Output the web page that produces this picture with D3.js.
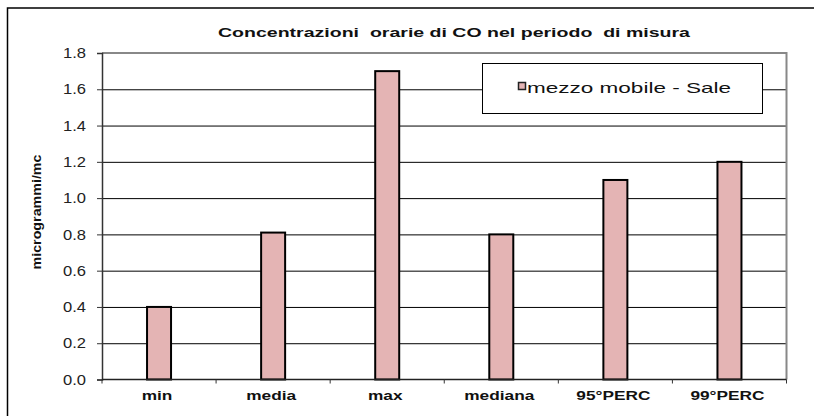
<!DOCTYPE html>
<html>
<head>
<meta charset="utf-8">
<script src="https://cdn.jsdelivr.net/npm/d3@7"></script>
<style>
  body { margin: 0; background: #fff; }
  svg { display: block; font-family: "Liberation Sans", Arial, sans-serif; }
</style>
</head>
<body>
<div id="chart"></div>
<script>
// chart data
const categories = ['min', 'media', 'max', 'mediana', '95°PERC', '99°PERC'];
const values = [0.4, 0.81, 1.7, 0.8, 1.1, 1.2];
const yTicks = [0, 0.2, 0.4, 0.6, 0.8, 1.0, 1.2, 1.4, 1.6, 1.8];
const seriesName = 'mezzo mobile - Sale';
const titleText = 'Concentrazioni  orarie di CO nel periodo  di misura';
const yLabel = 'microgrammi/mc';

const totalWidth = 814
const totalHeight = 416

const plotLeft = 102
const plotRight = 786.5
const plotTop = 53
const plotBottom = 379.5

const svg = d3.select('#chart')
    .append('svg')
    .attr('width', totalWidth)
    .attr('height', totalHeight);

// outer frame (right and bottom edges fall outside the picture)
svg.append('rect')
    .attr('x', 7.5)
    .attr('y', 8)
    .attr('width', 900)
    .attr('height', 600)
    .attr('fill', 'none')
    .attr('stroke', '#000')
    .attr('stroke-width', 1.5);

const xScale = d3.scaleBand()
    .domain(categories)
    .range([plotLeft, plotRight]);

const yScale = d3.scaleLinear()
    .domain([0, 1.8])
    .range([plotBottom, plotTop]);

// gridlines
svg.append('g')
    .attr('transform', `translate(${plotLeft},0)`)
    .call(d3.axisLeft(yScale).tickValues(yTicks.slice(1, -1)).tickSize(-(plotRight - plotLeft)).tickFormat(''))
    .call(g => g.select('.domain').remove())
    .call(g => g.selectAll('line').attr('stroke', '#000').attr('stroke-width', 1));

// plot border top and right
svg.append('path')
    .attr('d', `M${plotLeft},${plotTop}H${plotRight}V${plotBottom}`)
    .attr('fill', 'none')
    .attr('stroke', '#888')
    .attr('stroke-width', 2);

// bars
const barWidth = 24;
svg.selectAll('rect.bar')
    .data(values)
    .enter()
    .append('rect')
    .attr('class', 'bar')
    .attr('x', (d, i) => xScale(categories[i]) + xScale.bandwidth() / 2 - barWidth / 2)
    .attr('y', d => yScale(d))
    .attr('width', barWidth)
    .attr('height', d => yScale(0) - yScale(d))
    .attr('fill', '#e4b4b4')
    .attr('stroke', '#000')
    .attr('stroke-width', 2);

// y axis
const yAxis = svg.append('g')
    .attr('transform', `translate(${plotLeft},0)`)
    .call(d3.axisLeft(yScale).tickValues(yTicks).tickSize(5).tickPadding(11).tickFormat(d3.format('.1f')));
yAxis.select('.domain').attr('stroke', '#333').attr('stroke-width', 1.5);
yAxis.selectAll('line').attr('stroke', '#333');
yAxis.selectAll('text')
    .attr('font-size', 14)
    .attr('fill', '#222')
    .attr('dy', '0.33em')
    .attr('textLength', 23)
    .attr('lengthAdjust', 'spacingAndGlyphs')
    .attr('font-family', '"Liberation Sans", Arial, sans-serif');

// x axis
const boundaries = d3.range(categories.length + 1).map(i => plotLeft + i * xScale.step());
svg.append('line')
    .attr('x1', plotLeft).attr('x2', plotRight)
    .attr('y1', plotBottom).attr('y2', plotBottom)
    .attr('stroke', '#222').attr('stroke-width', 1.5);
svg.selectAll('line.xtick')
    .data(boundaries)
    .enter()
    .append('line')
    .attr('class', 'xtick')
    .attr('x1', d => d).attr('x2', d => d)
    .attr('y1', plotBottom).attr('y2', plotBottom + 4)
    .attr('stroke', '#333');

svg.selectAll('text.xlabel')
    .data(categories)
    .enter()
    .append('text')
    .attr('class', 'xlabel')
    .attr('transform', d => `translate(${xScale(d) + xScale.bandwidth() / 2 - 2},400) scale(1.33,1)`)
    .attr('text-anchor', 'middle')
    .attr('font-size', 13)
    .attr('font-weight', 'bold')
    .attr('fill', '#111')
    .text(d => d);

// title
svg.append('text')
    .attr('x', 218)
    .attr('y', 36.5)
    .attr('font-size', 13.5)
    .attr('font-weight', 'bold')
    .attr('fill', '#111')
    .style('white-space', 'pre')
    .attr('textLength', 472)
    .attr('lengthAdjust', 'spacingAndGlyphs')
    .text(titleText);

// y axis label
svg.append('text')
    .attr('transform', 'translate(41,212) rotate(-90)')
    .attr('text-anchor', 'middle')
    .attr('font-size', 13.5)
    .attr('font-weight', 'bold')
    .attr('fill', '#111')
    .attr('textLength', 115)
    .attr('lengthAdjust', 'spacingAndGlyphs')
    .text(yLabel);

// legend
const legend = svg.append('g');
legend.append('rect')
    .attr('x', 482.5)
    .attr('y', 63.5)
    .attr('width', 280)
    .attr('height', 50)
    .attr('fill', '#fff')
    .attr('stroke', '#000')
    .attr('stroke-width', 1);
legend.append('rect')
    .attr('x', 518.5)
    .attr('y', 82.5)
    .attr('width', 7)
    .attr('height', 7)
    .attr('fill', '#e4b4b4')
    .attr('stroke', '#222')
    .attr('stroke-width', 1.5);
legend.append('text')
    .attr('x', 527)
    .attr('y', 93)
    .attr('font-size', 15)
    .attr('fill', '#111')
    .attr('textLength', 204)
    .attr('lengthAdjust', 'spacingAndGlyphs')
    .text(seriesName);
</script>
</body>
</html>
